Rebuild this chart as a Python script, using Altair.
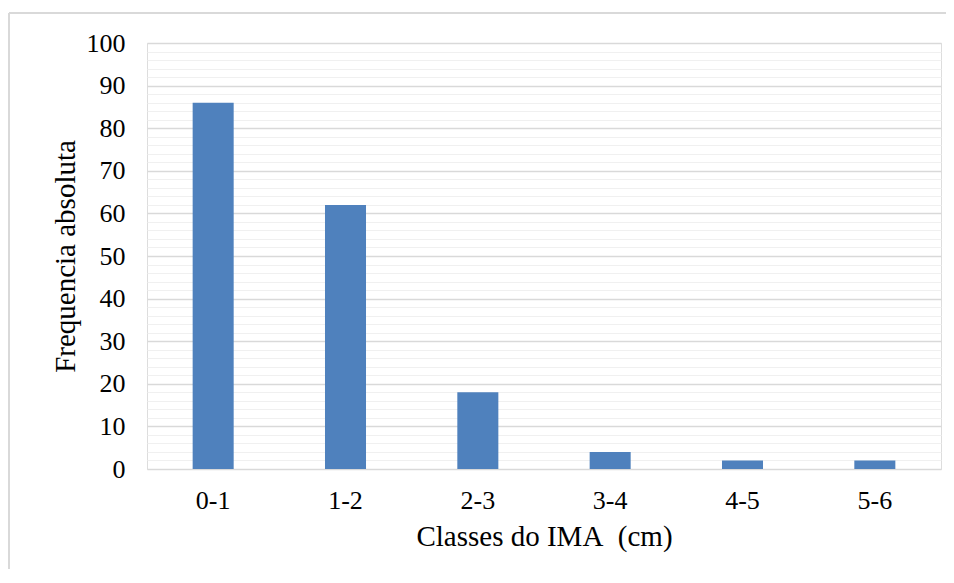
import altair as alt
import pandas as pd

categories = ["0-1", "1-2", "2-3", "3-4", "4-5", "5-6"]
values = [86, 62, 18, 4, 2, 2]
y_ticks = list(range(0, 101, 2))

df = pd.DataFrame({"classe": categories, "freq": values})

FONT = "Liberation Serif"

bars = alt.Chart(df).mark_bar(color="#4f81bd").encode(
    x=alt.X(
        "classe:N",
        sort=categories,
        title="Classes do IMA\u00a0\u00a0(cm)",
        scale=alt.Scale(paddingInner=0.69, paddingOuter=0.345),
        axis=alt.Axis(
            labelAngle=0, labelFontSize=26, labelFont=FONT, labelColor="black",
            titleFontSize=29, titleFont=FONT, titleColor="black", titleFontWeight="normal",
            ticks=False, domain=False, grid=False, labelPadding=18, titlePadding=9,
        ),
    ),
    y=alt.Y(
        "freq:Q",
        title="Frequencia absoluta",
        scale=alt.Scale(domain=[0, 100], nice=False),
        axis=alt.Axis(
            values=y_ticks,
            labelExpr="datum.value % 10 === 0 ? datum.label : ''",
            gridColor={"expr": "datum.value % 10 === 0 ? '#d9d9d9' : '#f0f0f0'"},
            gridWidth={"expr": "datum.value % 10 === 0 ? 1.5 : 1.2"},
            labelFontSize=26, labelFont=FONT, labelColor="black",
            titleFontSize=29, titleFont=FONT, titleColor="black", titleFontWeight="normal",
            ticks=False, domain=False, labelPadding=22, titlePadding=6,
        ),
    ),
)

border_left = alt.Chart(df).mark_rule(color="#d9d9d9", strokeWidth=1.5).encode(
    x=alt.value(-138), y=alt.value(-30), y2=alt.value(600)
)
border_top = alt.Chart(df).mark_rule(color="#d9d9d9", strokeWidth=1.5).encode(
    x=alt.value(-138), x2=alt.value(900), y=alt.value(-30)
)

chart = alt.layer(bars, border_left, border_top).properties(
    width=794, height=426,
    autosize=alt.AutoSizeParams(type="none"),
    padding={"left": 139, "top": 35, "right": 5, "bottom": 100},
).configure_view(strokeWidth=0, stroke="transparent").configure(background="white")

chart.save("out.html", embed_options={"renderer": "svg", "actions": False})
